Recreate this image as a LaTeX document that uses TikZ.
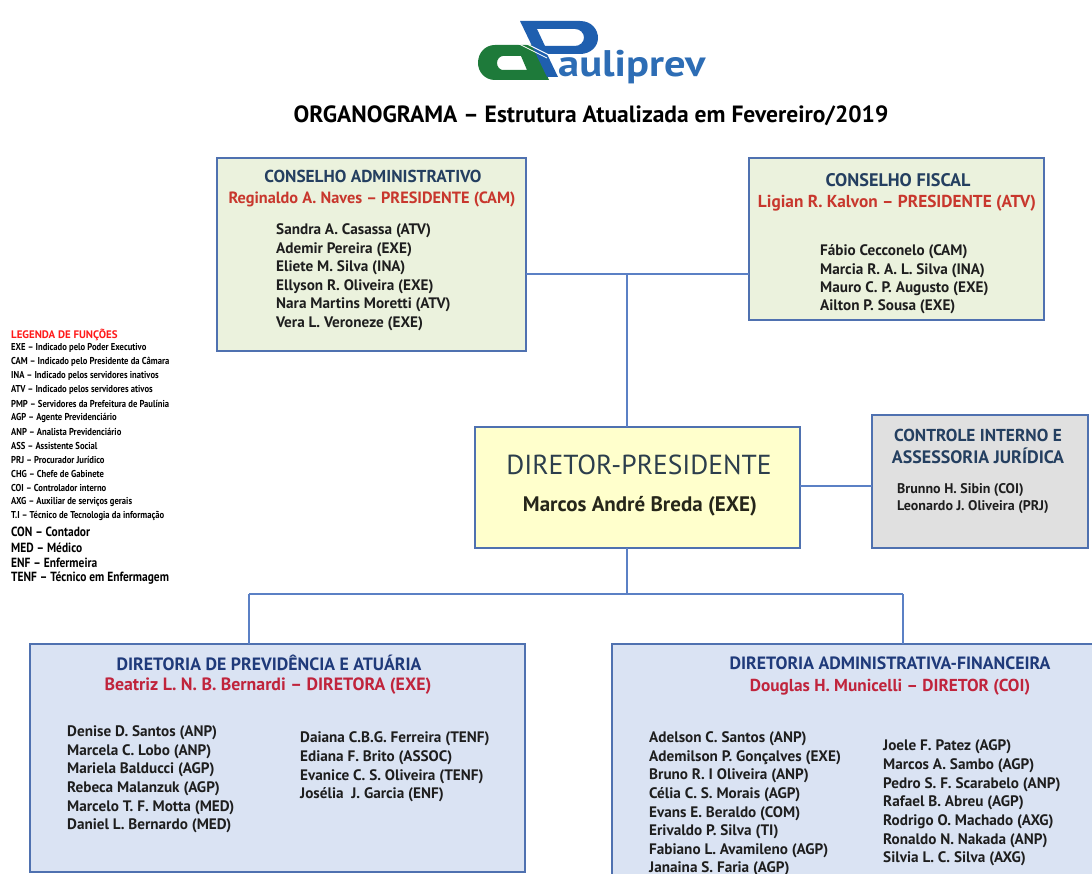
\documentclass[tikz,border=0pt]{standalone}
\usepackage{fontspec}
\setmainfont{PT Sans}
\newfontfamily\condff{PT Sans}[FakeStretch=0.86]
\newfontfamily\logoff{PT Sans}[FakeStretch=1.15]
\definecolor{bord}{HTML}{4F71B0}
\definecolor{connc}{HTML}{5B80C5}
\definecolor{cagreen}{HTML}{EBF2DD}
\definecolor{diryel}{HTML}{FFFFCC}
\definecolor{ctgray}{HTML}{E0E0E0}
\definecolor{dirblue}{HTML}{DAE3F3}
\definecolor{ttop}{HTML}{243F60}
\definecolor{tbot}{HTML}{1F3A7A}
\definecolor{redtop}{HTML}{C8372D}
\definecolor{redbot}{HTML}{C0243C}
\definecolor{listc}{HTML}{1E1E1E}
\definecolor{legred}{HTML}{FF1A1A}
\definecolor{logoblue}{HTML}{1F5FAF}
\definecolor{logogreen}{HTML}{1E7A3A}
\definecolor{logotext}{HTML}{2D6DB5}
\definecolor{dirtc}{HTML}{2C3E4C}
\definecolor{dirnc}{HTML}{26261A}
\begin{document}
\begin{tikzpicture}[x=1pt,y=-1pt,
  box/.style={draw=bord, line width=1.3pt, rectangle, anchor=north west, inner sep=0pt, outer sep=0pt},
  conn/.style={draw=connc, line width=1.4pt},
  txt/.style={inner sep=0pt, anchor=west},
  ctxt/.style={inner sep=0pt, anchor=center},
  boxtitle/.style={ctxt, font=\bfseries\fontsize{17.3}{20}\selectfont},
  bottitle/.style={ctxt, font=\bfseries\fontsize{17.8}{20}\selectfont},
  listitem/.style={txt, text=listc, font=\bfseries\fontsize{15.2}{18}\selectfont},
  legitem/.style={txt, text=black, font=\condff\bfseries\fontsize{10}{12}\selectfont},
  legbig/.style={txt, text=black, font=\condff\bfseries\fontsize{13.3}{15}\selectfont}]
\useasboundingbox (0,0) rectangle (1092,874);
\fill[white] (0,0) rectangle (1092,874);

% ---------- logo ----------
\fill[logogreen, even odd rule]
  (533,45) -- (549,80) -- (495,80) .. controls (485,80) and (478,72) .. (478,63)
  .. controls (478,53) and (485,45) .. (495,45) -- cycle
  (521,56) -- (527,70) -- (503,70) .. controls (500,70) and (497,67) .. (497,63)
  .. controls (497,59) and (500,56) .. (503,56) -- cycle;
\fill[logoblue, even odd rule]
  (520,21) -- (580,21) .. controls (592,21) and (598,30) .. (598,38)
  .. controls (598,47) and (590,54) .. (580,54) -- (547,54) -- (558,77) -- (547,77) -- cycle
  (537,29) -- (575,29) .. controls (580,29) and (584,33) .. (584,37.5)
  .. controls (584,42) and (580,46) .. (575,46) -- (545,46) -- cycle;
\draw[white, line width=1pt] (519,40) -- (549,55);
\draw[white, line width=0.8pt] (517,43) -- (547,58);
\node[inner sep=0pt, anchor=base west, text=logotext, font=\logoff\bfseries\fontsize{37}{40}\selectfont] (logo) at (558,77) {auliprev};

% ---------- title ----------
\node[ctxt, font=\bfseries\fontsize{23.5}{26}\selectfont] (title) at (591,116) {ORGANOGRAMA – Estrutura Atualizada em Fevereiro/2019};

% ---------- legend ----------
\node[txt, text=legred, font=\bfseries\fontsize{10.9}{12}\selectfont] (leg0) at (11,335) {LEGENDA DE FUNÇÕES};
\foreach \t [count=\i] in {EXE – Indicado pelo Poder Executivo,
  CAM – Indicado pelo Presidente da Câmara,
  INA – Indicado pelos servidores inativos,
  ATV – Indicado pelos servidores ativos,
  PMP – Servidores da Prefeitura de Paulínia,
  AGP – Agente Previdenciário,
  ANP – Analista Previdenciário,
  ASS – Assistente Social,
  PRJ – Procurador Jurídico,
  CHG – Chefe de Gabinete,
  COI – Controlador interno,
  AXG – Auxiliar de serviços gerais,
  T.I – Técnico de Tecnologia da informação}
  \node[legitem] (leg\i) at (11,{348+(\i-1)*14}) {\t};
\foreach \t [count=\i] in {CON – Contador, MED – Médico, ENF – Enfermeira, TENF – Técnico em Enfermagem}
  \node[legbig] (legb\i) at (11,{532+(\i-1)*15.5}) {\t};

% ---------- boxes ----------
\node[box, fill=cagreen, minimum width=309pt, minimum height=193pt] (ca) at (217,158) {};
\node[box, fill=cagreen, minimum width=295pt, minimum height=162pt] (cf) at (749,158) {};
\node[box, fill=diryel, minimum width=325pt, minimum height=121pt] (dir) at (475,427) {};
\node[box, fill=ctgray, minimum width=216pt, minimum height=133pt] (ct) at (872,415) {};
\node[box, fill=dirblue, minimum width=495pt, minimum height=228pt] (dpa) at (30,644) {};
\node[box, fill=dirblue, minimum width=500pt, minimum height=260pt] (daf) at (612,644) {};

% ---------- connectors ----------
\coordinate (jtop) at (627,274);
\coordinate (jbot) at (627,594);
\coordinate (jl) at (249,594);
\coordinate (jr) at (903,594);
\draw[conn] (ca.east |- jtop) -- (cf.west |- jtop);
\draw[conn] (jtop) -- (jtop |- dir.north);
\draw[conn] (dir.east |- 0,486) -- (ct.west |- 0,486);
\draw[conn] (jbot |- dir.south) -- (jbot);
\draw[conn] (jl) -- (jr);
\draw[conn] (jl) -- (jl |- dpa.north);
\draw[conn] (jr) -- (jr |- daf.north);

% ---------- Conselho Administrativo ----------
\node[boxtitle, text=ttop] (cat) at (373,176) {CONSELHO ADMINISTRATIVO};
\node[boxtitle, text=redtop, font=\bfseries\fontsize{16.3}{19}\selectfont] (car) at (372,199) {Reginaldo A. Naves – PRESIDENTE (CAM)};
\foreach \t [count=\i] in {Sandra A. Casassa (ATV), Ademir Pereira (EXE), Eliete M. Silva (INA),
  Ellyson R. Oliveira (EXE), Nara Martins Moretti (ATV), Vera L. Veroneze (EXE)}
  \node[listitem] (cal\i) at (276,{231+(\i-1)*18.5}) {\t};

% ---------- Conselho Fiscal ----------
\node[boxtitle, text=ttop, font=\bfseries\fontsize{18.2}{20}\selectfont] (cft) at (898,180) {CONSELHO FISCAL};
\node[boxtitle, text=redtop] (cfr) at (897,203) {Ligian R. Kalvon – PRESIDENTE (ATV)};
\foreach \t [count=\i] in {Fábio Cecconelo (CAM), Marcia R. A. L. Silva (INA), Mauro C. P. Augusto (EXE), Ailton P. Sousa (EXE)}
  \node[listitem] (cfl\i) at (820,{252+(\i-1)*18.3}) {\t};

% ---------- Diretor-Presidente ----------
\node[ctxt, text=dirtc, font=\fontsize{27.5}{32}\selectfont] (dirt) at (639,465) {DIRETOR-PRESIDENTE};
\node[ctxt, text=dirnc, font=\bfseries\fontsize{21}{24}\selectfont] (dirn) at (640,506) {Marcos André Breda (EXE)};

% ---------- Controle Interno ----------
\node[boxtitle, text=ttop] (ctt1) at (978,435) {CONTROLE INTERNO E};
\node[boxtitle, text=ttop, font=\bfseries\fontsize{18}{20}\selectfont] (ctt2) at (978,456) {ASSESSORIA JURÍDICA};
\node[listitem, font=\bfseries\fontsize{14}{16}\selectfont] (ctl1) at (897,490) {Brunno H. Sibin (COI)};
\node[listitem, font=\bfseries\fontsize{14}{16}\selectfont] (ctl2) at (897,507) {Leonardo J. Oliveira (PRJ)};

% ---------- Diretoria de Previdência ----------
\node[bottitle, text=tbot] (dpat) at (269,663) {DIRETORIA DE PREVIDÊNCIA E ATUÁRIA};
\node[bottitle, text=redbot] (dpar) at (268,686) {Beatriz L. N. B. Bernardi – DIRETORA (EXE)};
\foreach \t [count=\i] in {Denise D. Santos (ANP), Marcela C. Lobo (ANP), Mariela Balducci (AGP),
  Rebeca Malanzuk (AGP), Marcelo T. F. Motta (MED), Daniel L. Bernardo (MED)}
  \node[listitem] (dpal\i) at (67,{733+(\i-1)*18.6}) {\t};
\foreach \t [count=\i] in {Daiana C.B.G. Ferreira (TENF), Ediana F. Brito (ASSOC), Evanice C. S. Oliveira (TENF), Josélia\ \ J. Garcia (ENF)}
  \node[listitem] (dpar\i) at (300,{739+(\i-1)*18.7}) {\t};

% ---------- Diretoria Administrativa-Financeira ----------
\node[bottitle, text=tbot] (daft) at (890,663) {DIRETORIA ADMINISTRATIVA-FINANCEIRA};
\node[bottitle, text=redbot, font=\bfseries\fontsize{17.3}{20}\selectfont] (dafr) at (890,687) {Douglas H. Municelli – DIRETOR (COI)};
\foreach \t [count=\i] in {Adelson C. Santos (ANP), Ademilson P. Gonçalves (EXE), Bruno R. I Oliveira (ANP),
  Célia C. S. Morais (AGP), Evans E. Beraldo (COM), Erivaldo P. Silva (TI), Fabiano L. Avamileno (AGP), Janaina S. Faria (AGP)}
  \node[listitem] (dafl\i) at (649,{739+(\i-1)*18.6}) {\t};
\foreach \t [count=\i] in {Joele F. Patez (AGP), Marcos A. Sambo (AGP), Pedro S. F. Scarabelo (ANP),
  Rafael B. Abreu (AGP), Rodrigo O. Machado (AXG), Ronaldo N. Nakada (ANP), Silvia L. C. Silva (AXG)}
  \node[listitem] (dafr\i) at (883,{747+(\i-1)*18.7}) {\t};
\end{tikzpicture}
\end{document}
